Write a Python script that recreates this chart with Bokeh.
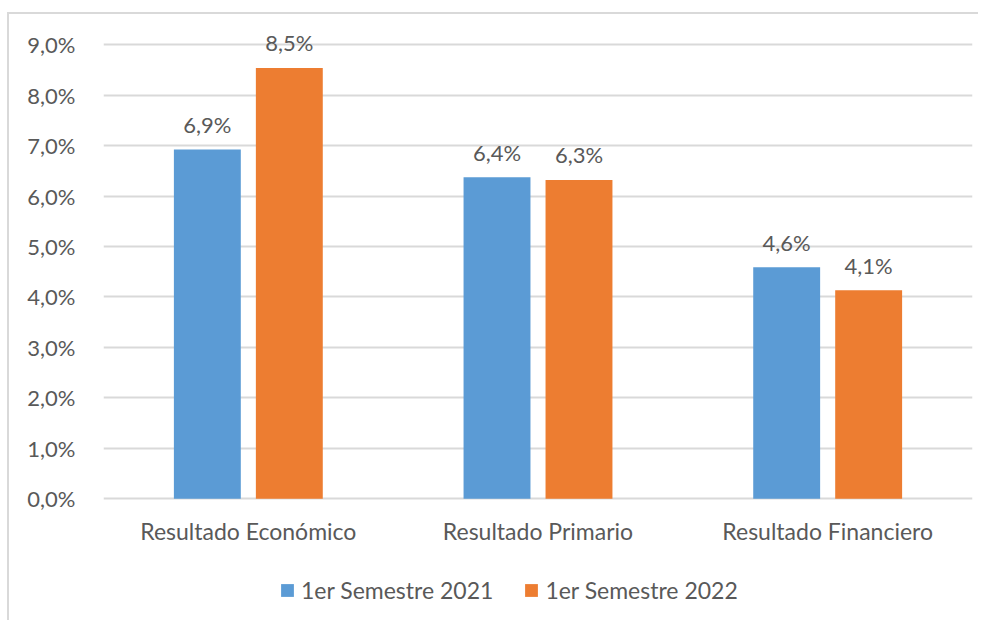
from bokeh.plotting import figure
from bokeh.models import ColumnDataSource, Range1d, FactorRange, Legend, LegendItem, FixedTicker, CustomJSTickFormatter
from bokeh.core.properties import value
from bokeh.transform import dodge
from bokeh.embed import file_html
from bokeh.resources import INLINE

categories = ["Resultado Económico", "Resultado Primario", "Resultado Financiero"]
series_names = ["1er Semestre 2021", "1er Semestre 2022"]
values_2021 = [6.92, 6.37, 4.59]
values_2022 = [8.54, 6.32, 4.13]
y_ticks = [0, 1, 2, 3, 4, 5, 6, 7, 8, 9]

FONT = "Lato"
TEXT = "#595959"
GRID = "#D9D9D9"
BLUE = "#5B9BD5"
ORANGE = "#ED7D31"

def fmt(v):
    return ("%.1f" % v).replace(".", ",") + "%"

src = ColumnDataSource(dict(
    cat=categories,
    v21=values_2021,
    v22=values_2022,
    l21=[fmt(v) for v in values_2021],
    l22=[fmt(v) for v in values_2022],
))

p = figure(x_range=FactorRange(*categories), y_range=Range1d(-2.257, 9.48),
           frame_width=869, frame_height=592, output_backend="svg", toolbar_location=None,
           min_border_left=94, min_border_right=6, min_border_top=6, min_border_bottom=8)
p.styles = {"margin-top": "12px", "margin-left": "7px",
            "border-left": "2px solid #D9D9D9", "border-top": "2px solid #D9D9D9"}

r1 = p.vbar(x=dodge("cat", -0.1415, range=p.x_range), top="v21", width=0.231, source=src,
            fill_color=BLUE, line_color=None)
r2 = p.vbar(x=dodge("cat", 0.1415, range=p.x_range), top="v22", width=0.231, source=src,
            fill_color=ORANGE, line_color=None)

for col, lab, off in [("v21", "l21", -0.1415), ("v22", "l22", 0.1415)]:
    p.text(x=dodge("cat", off, range=p.x_range), y=col, text=lab, source=src,
           text_align="center", text_baseline="alphabetic", y_offset=-25,
           text_font=value(FONT), text_font_size="22px", text_color=TEXT)

p.outline_line_color = None
p.background_fill_color = "white"
p.border_fill_color = "white"
p.xgrid.grid_line_color = None
p.ygrid.grid_line_color = GRID
p.ygrid.grid_line_width = 2
p.ygrid.ticker = FixedTicker(ticks=y_ticks)

p.yaxis.ticker = FixedTicker(ticks=y_ticks)
p.yaxis.formatter = CustomJSTickFormatter(code="return tick.toFixed(1).replace('.', ',') + '%';")
p.xaxis.fixed_location = 0
for ax in (p.xaxis[0], p.yaxis[0]):
    ax.axis_line_color = None
    ax.major_tick_line_color = None
    ax.minor_tick_line_color = None
    ax.major_label_text_font = FONT
    ax.major_label_text_color = TEXT
p.yaxis.major_label_text_font_size = "22px"
p.xaxis.major_label_text_font_size = "23px"
p.yaxis.major_label_standoff = 22
p.xaxis.major_label_standoff = 12

legend = Legend(items=[LegendItem(label=series_names[0], renderers=[r1]),
                       LegendItem(label=series_names[1], renderers=[r2])],
                orientation="horizontal", location=(176, 8),
                label_text_font=FONT, label_text_font_size="23px", label_text_color=TEXT,
                glyph_width=16, glyph_height=16, spacing=30, label_standoff=6,
                border_line_color=None, background_fill_alpha=0, margin=0, padding=0)
p.add_layout(legend, "center")

open("out.html", "w").write(file_html(p, INLINE))
